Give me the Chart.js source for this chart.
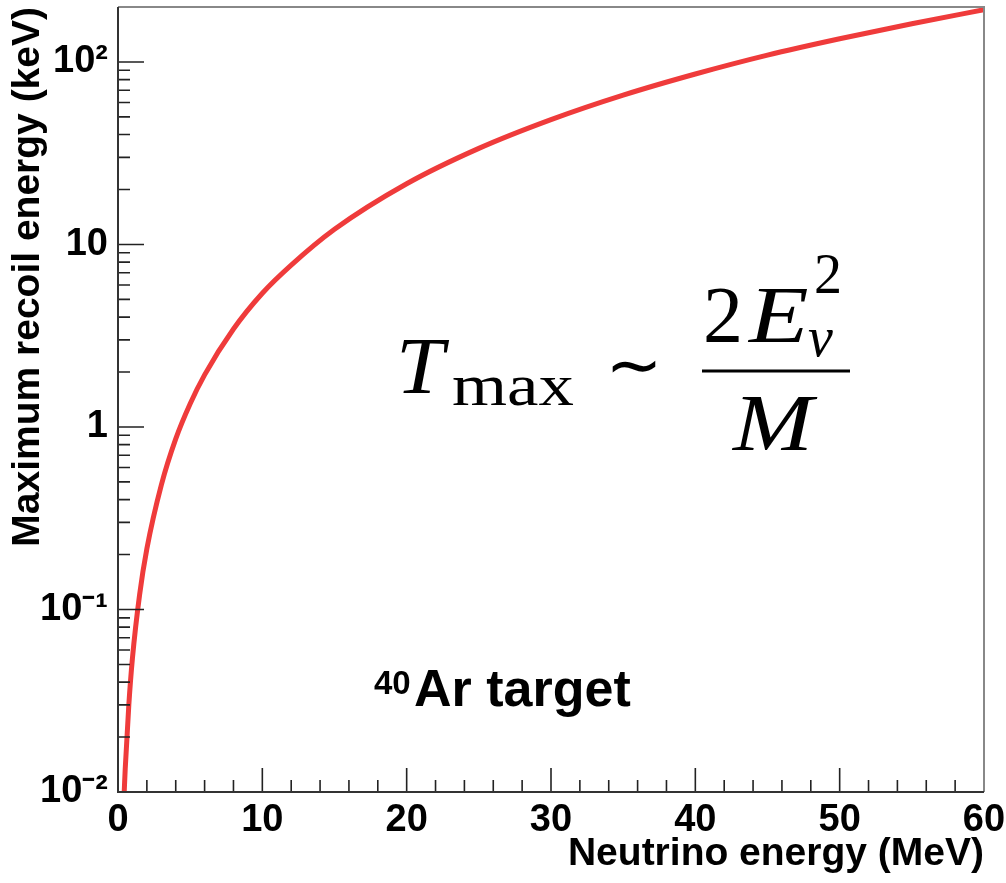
<!DOCTYPE html>
<html>
<head>
<meta charset="utf-8">
<script src="https://cdn.jsdelivr.net/npm/chart.js@4/dist/chart.umd.min.js"></script>
<style>
  body { margin: 0; background: #fff; }
  canvas { display: block; }
</style>
</head>
<body>
<canvas id="recoilChart" width="1006" height="883"></canvas>
<script>
// values
const energyMeV = [0.43, 0.5, 0.75, 1, 1.5, 2, 3, 4, 5, 6, 8, 10, 12, 15, 20, 25, 30, 35, 40, 45, 50, 55, 60];
const recoilKeV = [0.01, 0.0134, 0.030, 0.054, 0.121, 0.215, 0.48, 0.86, 1.34, 1.93, 3.44, 5.4, 7.7, 12.1, 21.5, 33.6, 48.3, 65.8, 85.9, 109, 134, 162, 193];
const yTickValues = [0.01, 0.1, 1, 10, 100];
const yTickLabels = ['10\u207B\u00B2', '10\u207B\u00B9', '1', '10', '10\u00B2'];
const xTickValues = [0, 10, 20, 30, 40, 50, 60];

const sans = '"Liberation Sans", Arial, Helvetica, sans-serif';
const serif = '"Liberation Serif", "Times New Roman", serif';

// ROOT-style ticks drawn inside the frame, plus the frame itself
const frameTicks = {
    id: 'frameTicks',
    afterDraw(chart) {
        const {ctx, chartArea: a, scales: {x, y}} = chart;
        ctx.save();
        ctx.lineWidth = 1.6;
        ctx.strokeStyle = '#222';
        ctx.beginPath();
        for (let v = 0; v <= 60; v += 2) {
            const px = x.getPixelForValue(v);
            const len = v % 10 === 0 ? 24 : 12;
            ctx.moveTo(px, a.bottom);
            ctx.lineTo(px, a.bottom - len);
        }
        for (let d = -2; d <= 2; d++) {
            for (let k = 1; k <= 9; k++) {
                const v = k * Math.pow(10, d);
                if (v > y.max) continue;
                const py = y.getPixelForValue(v);
                const len = k === 1 ? 26 : 12;
                ctx.moveTo(a.left, py);
                ctx.lineTo(a.left + len, py);
            }
        }
        ctx.stroke();

        // frame
        ctx.lineWidth = 2;
        ctx.strokeStyle = '#888';
        ctx.beginPath();
        ctx.moveTo(a.left, a.top);
        ctx.lineTo(a.right, a.top);
        ctx.lineTo(a.right, a.bottom);
        ctx.stroke();
        ctx.strokeStyle = '#333';
        ctx.beginPath();
        ctx.moveTo(a.left, a.top);
        ctx.lineTo(a.left, a.bottom);
        ctx.lineTo(a.right, a.bottom);
        ctx.stroke();
        ctx.restore();
    }
};

// stretched glyph helper, for the wide TeX-like letters
function wideText(ctx, text, x, y, sx) {
    ctx.save();
    ctx.translate(x, y);
    ctx.scale(sx, 1);
    ctx.fillText(text, 0, 0);
    ctx.restore();
}

// formula and target label
const annotations = {
    id: 'annotations',
    afterDraw(chart) {
        const ctx = chart.ctx;
        ctx.save();
        ctx.fillStyle = '#000';
        ctx.textBaseline = 'alphabetic';
        ctx.textAlign = 'left';

        // T_max ~ 2E_nu^2 / M
        ctx.font = 'italic 80px ' + serif;
        wideText(ctx, 'T', 396, 393, 1.08);
        ctx.font = '60px ' + serif;
        wideText(ctx, 'max', 452, 405, 1.18);
        ctx.font = '68px "DejaVu Sans", sans-serif';
        ctx.textAlign = 'center';
        ctx.textBaseline = 'middle';
        ctx.fillText('\u223C', 634, 370);
        ctx.textAlign = 'left';
        ctx.textBaseline = 'alphabetic';

        ctx.font = '80px ' + serif;
        wideText(ctx, '2', 703, 342, 1.0);
        ctx.font = 'italic 80px ' + serif;
        wideText(ctx, 'E', 749, 342, 1.22);
        ctx.font = '56px ' + serif;
        ctx.fillText('2', 814, 293);
        ctx.font = 'italic 56px ' + serif;
        ctx.fillText('\u03BD', 808, 356);

        ctx.fillRect(702, 369.5, 148, 3);
        ctx.font = 'italic 80px ' + serif;
        wideText(ctx, 'M', 733, 450, 1.2);

        // 40Ar target
        ctx.font = 'bold 33px ' + sans;
        ctx.fillText('40', 374, 694);
        ctx.font = 'bold 52px ' + sans;
        ctx.fillText('Ar target', 414, 706);
        ctx.restore();
    }
};

new Chart(document.getElementById('recoilChart'), {
    type: 'line',
    data: {
        datasets: [{
            label: 'Maximum recoil energy',
            data: energyMeV.map((e, i) => ({x: e, y: recoilKeV[i]})),
            borderColor: '#ef3b3b',
            borderWidth: 5,
            pointRadius: 0,
            fill: false,
            cubicInterpolationMode: 'monotone'
        }]
    },
    options: {
        responsive: false,
        animation: false,
        layout: {
            padding: {left: 0, top: 7, right: 22, bottom: 0}
        },
        plugins: {
            legend: {display: false},
            tooltip: {enabled: false}
        },
        scales: {
            x: {
                type: 'linear',
                min: 0,
                max: 60,
                grid: {display: false, drawTicks: false},
                border: {display: false},
                afterBuildTicks: s => { s.ticks = xTickValues.map(v => ({value: v})); },
                afterFit: s => { s.height = 91; s.paddingLeft = 0; s.paddingRight = 0; },
                ticks: {
                    padding: 6,
                    color: '#000',
                    maxRotation: 0,
                    font: {family: sans, size: 38, weight: 'bold'}
                },
                title: {
                    display: true,
                    text: 'Neutrino energy (MeV)',
                    align: 'end',
                    color: '#000',
                    padding: {top: 0, bottom: 5},
                    font: {family: sans, size: 39, weight: 'bold'}
                }
            },
            y: {
                type: 'logarithmic',
                min: 0.01,
                max: 200,
                grid: {display: false, drawTicks: false},
                border: {display: false},
                afterBuildTicks: s => { s.ticks = yTickValues.map(v => ({value: v})); },
                afterFit: s => { s.width = 118; s.paddingTop = 0; s.paddingBottom = 0; },
                ticks: {
                    padding: 10,
                    color: '#000',
                    font: {family: sans, size: 38, weight: 'bold'},
                    callback: (v, i) => yTickLabels[i]
                },
                title: {
                    display: true,
                    text: 'Maximum recoil energy (keV)',
                    align: 'end',
                    color: '#000',
                    padding: {top: 5, bottom: 0},
                    font: {family: sans, size: 39, weight: 'bold'}
                }
            }
        }
    },
    plugins: [frameTicks, annotations]
});
</script>
</body>
</html>
